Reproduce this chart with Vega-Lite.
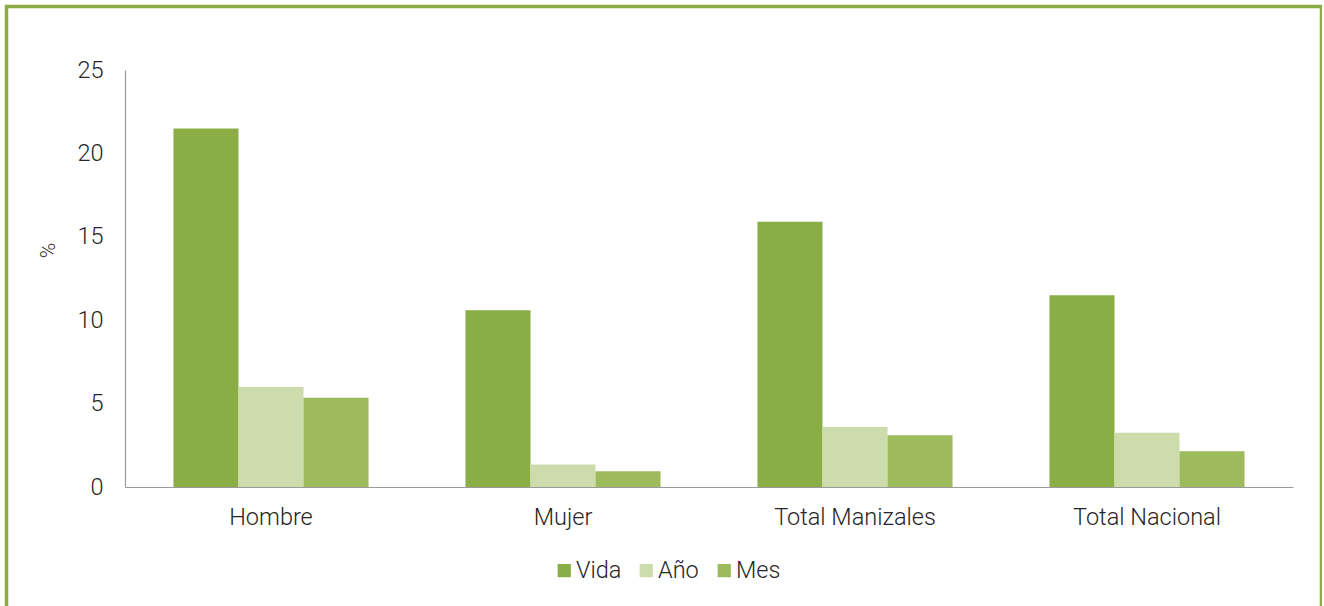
{
  "$schema": "https://vega.github.io/schema/vega-lite/v6.json",
  "width": 1315,
  "height": 620,
  "autosize": {"type": "none"},
  "padding": {"left": 6.5, "top": 6.5, "right": 0, "bottom": 0},
  "background": "white",
  "config": {
    "font": "Roboto",
    "view": {"stroke": "#8aad46", "strokeWidth": 3.5, "fill": "white"},
    "axis": {"labelFont": "Roboto", "titleFont": "Roboto", "labelFontWeight": 300, "labelColor": "#262626", "titleColor": "#262626", "domainColor": "#9a9a9a", "domainWidth": 1.2, "ticks": false, "grid": false}
  },
  "data": {
    "values": [
      {"grupo": "Hombre", "periodo": "Vida", "pct": 21.5},
      {"grupo": "Hombre", "periodo": "Año", "pct": 6.0},
      {"grupo": "Hombre", "periodo": "Mes", "pct": 5.35},
      {"grupo": "Mujer", "periodo": "Vida", "pct": 10.6},
      {"grupo": "Mujer", "periodo": "Año", "pct": 1.35},
      {"grupo": "Mujer", "periodo": "Mes", "pct": 0.95},
      {"grupo": "Total Manizales", "periodo": "Vida", "pct": 15.9},
      {"grupo": "Total Manizales", "periodo": "Año", "pct": 3.6},
      {"grupo": "Total Manizales", "periodo": "Mes", "pct": 3.1},
      {"grupo": "Total Nacional", "periodo": "Vida", "pct": 11.5},
      {"grupo": "Total Nacional", "periodo": "Año", "pct": 3.25},
      {"grupo": "Total Nacional", "periodo": "Mes", "pct": 2.15}
    ]
  },
  "mark": {"type": "bar"},
  "encoding": {
    "x": {
      "field": "grupo", "type": "nominal", "sort": null,
      "scale": {"range": [118.5, 1286.5], "paddingInner": 0.332, "paddingOuter": 0.166},
      "axis": {"title": null, "labelAngle": 0, "labelFontSize": 23.5, "labelPadding": 18, "offset": -139.5}
    },
    "xOffset": {"field": "periodo", "type": "nominal", "sort": ["Vida", "Año", "Mes"], "scale": {"paddingInner": 0, "paddingOuter": 0}},
    "y": {
      "field": "pct", "type": "quantitative",
      "scale": {"domain": [0, 25], "nice": false, "range": [480.5, 63.5]},
      "axis": {"title": "%", "titleFontSize": 21, "titleFontWeight": 300, "titlePadding": 18, "titleY": 243.5, "titleAnchor": "middle", "values": [0, 5, 10, 15, 20, 25], "labelFontSize": 23.5, "labelPadding": 22, "offset": -118.5}
    },
    "color": {
      "field": "periodo", "type": "nominal", "sort": ["Vida", "Año", "Mes"],
      "scale": {"domain": ["Vida", "Año", "Mes"], "range": ["#8aad46", "#ccdcac", "#9dbb5b"]},
      "legend": {"title": null, "orient": "none", "direction": "horizontal", "legendX": 546, "legendY": 552, "symbolType": "square", "symbolSize": 175, "symbolStrokeWidth": 0, "labelFontSize": 23.5, "labelFont": "Roboto", "labelFontWeight": 300, "labelColor": "#262626", "labelOffset": 0, "columnPadding": 13}
    }
  }
}
